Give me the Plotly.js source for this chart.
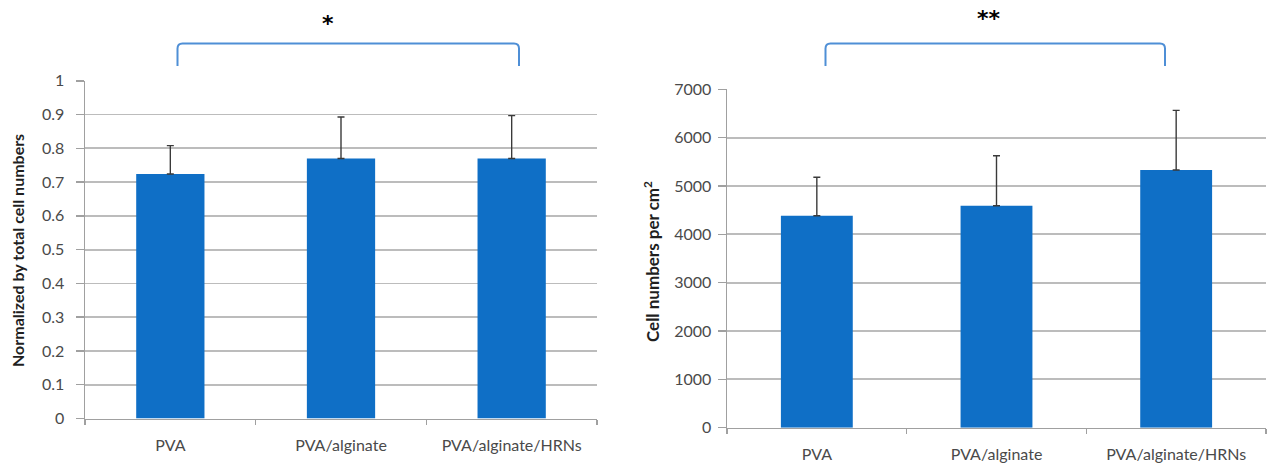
<!DOCTYPE html>
<html>
<head>
<meta charset="utf-8">
<script src="https://cdn.plot.ly/plotly-3.0.1.min.js"></script>
<style>html,body{margin:0;padding:0;background:#fff;}#chart{width:1268px;height:467px;}</style>
</head>
<body>
<div id="chart"></div>
<script>
// Data
const categories = ["PVA", "PVA/alginate", "PVA/alginate/HRNs"];
const normalizedValues = [0.724, 0.770, 0.770];
const normalizedErrors = [0.084, 0.123, 0.127];
const cellDensityValues = [4385, 4590, 5330];
const cellDensityErrors = [795, 1035, 1235];
const leftTicks = [0, 0.1, 0.2, 0.3, 0.4, 0.5, 0.6, 0.7, 0.8, 0.9, 1];
const leftTickLabels = ["0", "0.1", "0.2", "0.3", "0.4", "0.5", "0.6", "0.7", "0.8", "0.9", "1"];
const rightTicks = [0, 1000, 2000, 3000, 4000, 5000, 6000, 7000];
const rightTickLabels = ["0", "1000", "2000", "3000", "4000", "5000", "6000", "7000"];
const leftTitle = "Normalized by total cell numbers";
const rightTitle = "Cell numbers per cm<sup>2</sup>";
const leftSignificance = "*";
const rightSignificance = "**";

// Geometry helpers (pixel -> paper)
const W = 1268, H = 467;
const px = x => x / W;
const py = y => 1 - y / H;

const barColor = "#0F6FC6";
const errColor = "#3a3a3a";
const gridColor = "#bcbcbc";
const axisColor = "#a0a0a0";
const textColor = "#4a4a4a";
const fontFam = "Lato, 'Open Sans', sans-serif";
const bracketColor = "#4f8fd6";

const traces = [
  {
    type: "bar", x: categories, y: normalizedValues, xaxis: "x", yaxis: "y",
    marker: {color: barColor, line: {width: 0}},
    error_y: {type: "data", symmetric: false, array: normalizedErrors, arrayminus: [0,0,0],
              color: errColor, thickness: 1.4, width: 3.5},
    hoverinfo: "skip"
  },
  {
    type: "bar", x: categories, y: cellDensityValues, xaxis: "x2", yaxis: "y2",
    marker: {color: barColor, line: {width: 0}},
    error_y: {type: "data", symmetric: false, array: cellDensityErrors, arrayminus: [0,0,0],
              color: errColor, thickness: 1.4, width: 3.5},
    hoverinfo: "skip"
  }
];

function xAxis(domain, anchor) {
  return {
    domain: domain, anchor: anchor, type: "category",
    showline: true, linecolor: axisColor, linewidth: 1.5,
    ticks: "outside", tickson: "boundaries", ticklen: 5, tickcolor: axisColor, tickwidth: 1.5,
    showgrid: false, zeroline: false,
    tickfont: {family: fontFam, size: 16, color: textColor},
    ticklabelstandoff: 12, fixedrange: true
  };
}
function yAxis(domain, anchor, range, tickvals, ticktext, standoff) {
  return {
    domain: domain, anchor: anchor, range: range,
    tickmode: "array", tickvals: tickvals, ticktext: ticktext,
    showline: true, linecolor: axisColor, linewidth: 1.5,
    ticks: "outside", ticklen: 8, tickcolor: axisColor, tickwidth: 1.5,
    showgrid: true, gridcolor: gridColor, gridwidth: 1.8,
    zeroline: false,
    tickfont: {family: fontFam, size: 16, color: textColor},
    ticklabelstandoff: standoff, fixedrange: true
  };
}

function bracketPath(x0, x1, yTop, yBot) {
  const r = 5;
  const X0 = px(x0), X1 = px(x1), YT = py(yTop), YB = py(yBot);
  const rx = r / W, ry = r / H;
  return `M ${X0} ${YB} L ${X0} ${YT - ry} Q ${X0} ${YT} ${X0 + rx} ${YT} L ${X1 - rx} ${YT} Q ${X1} ${YT} ${X1} ${YT - ry} L ${X1} ${YB}`;
}

const layout = {
  width: W, height: H,
  margin: {l: 0, r: 0, t: 0, b: 0},
  paper_bgcolor: "#ffffff", plot_bgcolor: "#ffffff",
  showlegend: false, bargap: 0.6,
  xaxis: xAxis([px(85), px(597)], "y"),
  yaxis: yAxis([py(418.5), py(80.8)], "x", [0, 1], leftTicks, leftTickLabels, 8),
  xaxis2: xAxis([px(727), px(1266)], "y2"),
  yaxis2: yAxis([py(427.7), py(89.3)], "x2", [0, 7000], rightTicks, rightTickLabels, 3),
  shapes: [
    {type: "path", xref: "paper", yref: "paper", path: bracketPath(177.5, 519, 43.5, 66),
     line: {color: bracketColor, width: 2}},
    {type: "path", xref: "paper", yref: "paper", path: bracketPath(825.5, 1165, 43.5, 66),
     line: {color: bracketColor, width: 2}}
  ],
  annotations: [
    {text: "<b>" + leftTitle + "</b>", xref: "paper", yref: "paper", x: px(18), y: py(251),
     textangle: -90, showarrow: false, xanchor: "center", yanchor: "middle",
     font: {family: fontFam, size: 16, color: "#1f1f1f"}},
    {text: "<b>" + rightTitle + "</b>", xref: "paper", yref: "paper", x: px(651), y: py(262),
     textangle: -90, showarrow: false, xanchor: "center", yanchor: "middle",
     font: {family: fontFam, size: 17, color: "#1f1f1f"}},
    {text: "<b>" + leftSignificance + "</b>", xref: "paper", yref: "paper", x: px(328), y: py(24),
     showarrow: false, xanchor: "center", yanchor: "middle",
     font: {family: "DejaVu Sans, sans-serif", size: 22, color: "#000000"}},
    {text: "<b>" + rightSignificance + "</b>", xref: "paper", yref: "paper", x: px(989), y: py(19),
     showarrow: false, xanchor: "center", yanchor: "middle",
     font: {family: "DejaVu Sans, sans-serif", size: 22, color: "#000000"}}
  ]
};

Plotly.newPlot("chart", traces, layout, {staticPlot: true, displayModeBar: false});
</script>
</body>
</html>
